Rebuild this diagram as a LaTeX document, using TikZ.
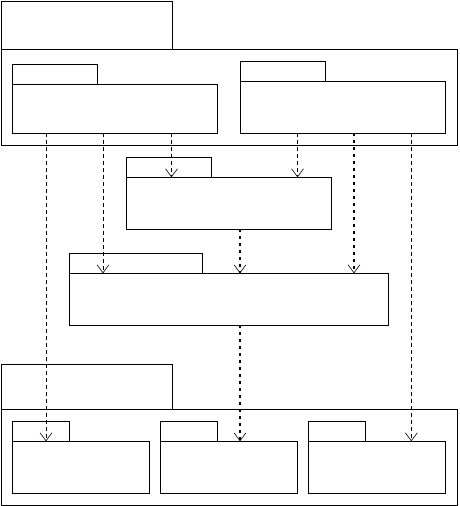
\documentclass[tikz,border=0pt]{standalone}
\usetikzlibrary{positioning, arrows.meta}

\begin{document}
\begin{tikzpicture}[
		x=1pt, y=-1pt,
		pkgbody/.style={draw, line width=0.8pt, inner sep=0pt, outer sep=0pt, anchor=north west, minimum height=52pt},
		pkgtab/.style={draw, line width=0.8pt, inner sep=0pt, outer sep=0pt, anchor=south west, minimum height=20pt},
		dep/.style={line width=0.8pt, dash pattern=on 4pt off 3pt, -{Straight Barb[length=8pt, width=12pt, line width=0.6pt]}},
		strongdep/.style={line width=2.1pt, dash pattern=on 2.2pt off 4.8pt, -{Straight Barb[length=8pt, width=12pt, line width=0.6pt]}}
		]
		\useasboundingbox (0,0) rectangle (459,506);
		
		% --- top container package ---
		\node[pkgbody, minimum width=456.5pt, minimum height=96pt] (topBody) at (1,49.3) {};
		\node[pkgtab, minimum width=171pt, minimum height=48pt] (topTab) at (topBody.north west) {};
		
		% nested packages of the top container
		\node[pkgbody, minimum width=205pt, minimum height=49pt] (leftBody) at (12.3,84.3) {};
		\node[pkgtab, minimum width=85pt] (leftTab) at (leftBody.north west) {};
		\node[pkgbody, minimum width=205.4pt] (rightBody) at (240.3,81.3) {};
		\node[pkgtab, minimum width=85.4pt] (rightTab) at (rightBody.north west) {};
		
		% --- middle packages ---
		\node[pkgbody, minimum width=205.4pt] (midBody) at (126.3,177.3) {};
		\node[pkgtab, minimum width=85.4pt] (midTab) at (midBody.north west) {};
		\node[pkgbody, minimum width=319.4pt] (wideBody) at (69.3,273.3) {};
		\node[pkgtab, minimum width=133.4pt] (wideTab) at (wideBody.north west) {};
		
		% --- bottom container package ---
		\node[pkgbody, minimum width=456.5pt, minimum height=96pt] (botBody) at (1,409.3) {};
		\node[pkgtab, minimum width=171pt, minimum height=45pt] (botTab) at (botBody.north west) {};
		
		% nested packages of the bottom container
		\node[pkgbody, minimum width=137pt] (b1Body) at (12.3,441.3) {};
		\node[pkgtab, minimum width=57pt] (b1Tab) at (b1Body.north west) {};
		\node[pkgbody, minimum width=137pt] (b2Body) at (160.3,441.3) {};
		\node[pkgtab, minimum width=57pt] (b2Tab) at (b2Body.north west) {};
		\node[pkgbody, minimum width=137.4pt] (b3Body) at (308.3,441.3) {};
		\node[pkgtab, minimum width=57pt] (b3Tab) at (b3Body.north west) {};
		
		% columns of the dependencies
		\coordinate (c1) at (46,0);
		\coordinate (c2) at (103,0);
		\coordinate (c3) at (171.5,0);
		\coordinate (c4) at (240,0);
		\coordinate (c5) at (297.5,0);
		\coordinate (c6) at (354,0);
		\coordinate (c7) at (411.3,0);
		
		% --- dependencies ---
		\draw[dep] (c1 |- leftBody.south) -- (c1 |- b1Body.north);
		\draw[dep] (c2 |- leftBody.south) -- (c2 |- wideBody.north);
		\draw[dep] (c3 |- leftBody.south) -- (c3 |- midBody.north);
		\draw[dep] (c5 |- rightBody.south) -- (c5 |- midBody.north);
		\draw[strongdep] (c6 |- rightBody.south) -- (c6 |- wideBody.north);
		\draw[dep] (c7 |- rightBody.south) -- (c7 |- b3Body.north);
		\draw[strongdep] (c4 |- midBody.south) -- (c4 |- wideBody.north);
		\draw[strongdep] (c4 |- wideBody.south) -- (c4 |- b2Body.north);
		
	\end{tikzpicture}
\end{document}
